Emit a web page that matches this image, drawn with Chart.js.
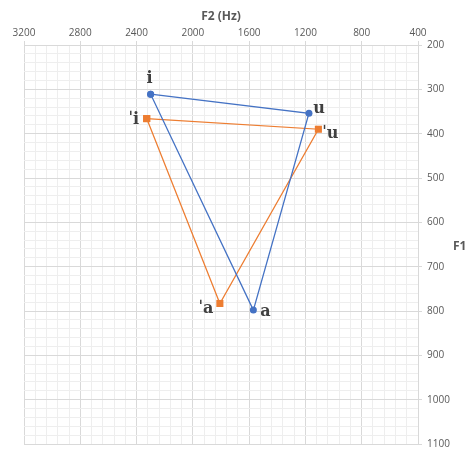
<!DOCTYPE html>
<html>
<head>
    <meta charset="UTF-8">
    <title>Vowel chart F1/F2</title>
    <script src="https://cdn.jsdelivr.net/npm/chart.js"></script>
    <style>
        body { margin: 0; background: #fff; overflow: hidden; }
    </style>
</head>
<body>
    <canvas id="vowelChart" width="465" height="449"></canvas>
    <script>
        // vowel labels
        var plainVowels = ['i', 'u', 'a'];
        var stressVowels = ['ˈi', 'ˈu', 'ˈa'];

        // formants (Hz)
        var plainF2 = [2300, 1175, 1570];
        var plainF1 = [311, 354, 798];
        var stressF2 = [2328, 1108, 1808];
        var stressF1 = [366, 390, 783];

        // axis ranges
        var f2Min = 400, f2Max = 3200, f2Major = 400, f2Minor = 80;
        var f1Min = 200, f1Max = 1100, f1Major = 100, f1Minor = 20;

        var majorGrid = '#d9d9d9';
        var minorGrid = '#eeeeee';
        var tickText = '#595959';

        // closed triangle: back to the first vowel
        function toPoints(f2, f1) {
            var pts = [];
            for (var i = 0; i < f2.length; i++) pts.push({ x: f2[i], y: f1[i] });
            pts.push({ x: f2[0], y: f1[0] });
            return pts;
        }

        function isMajor(v, step) {
            return Math.round(v) % step === 0;
        }

        // vowel names next to the points
        var labelOffsets = [
            [[-1, -15], [10, -4], [12, 2]],
            [[-13, 1], [12, 5], [-14, 5]]
        ];
        var vowelLabels = {
            id: 'vowelLabels',
            afterDatasetsDraw: function(chart) {
                var ctx = chart.ctx;
                var names = [plainVowels, stressVowels];
                ctx.save();
                ctx.font = 'bold 16px "DejaVu Serif"';
                ctx.fillStyle = '#404040';
                ctx.textAlign = 'center';
                ctx.textBaseline = 'middle';
                for (var d = 0; d < 2; d++) {
                    var meta = chart.getDatasetMeta(d);
                    for (var i = 0; i < names[d].length; i++) {
                        var p = meta.data[i];
                        ctx.fillText(names[d][i], p.x + labelOffsets[d][i][0], p.y + labelOffsets[d][i][1]);
                    }
                }
                // F1 axis title, horizontal
                ctx.font = 'bold 12px "Open Sans"';
                ctx.fillStyle = tickText;
                ctx.textAlign = 'left';
                ctx.fillText('F1', 453, 247);
                ctx.restore();
            }
        };

        var ctx = document.getElementById('vowelChart').getContext('2d');
        var vowelChart = new Chart(ctx, {
            type: 'scatter',
            data: {
                datasets: [{
                    label: 'vowels',
                    data: toPoints(plainF2, plainF1),
                    showLine: true,
                    borderColor: '#4472C4',
                    backgroundColor: '#4472C4',
                    borderWidth: 1.25,
                    pointStyle: 'circle',
                    pointRadius: 3.5,
                    pointBorderWidth: 0
                }, {
                    label: 'stressed vowels',
                    data: toPoints(stressF2, stressF1),
                    showLine: true,
                    borderColor: '#ED7D31',
                    backgroundColor: '#ED7D31',
                    borderWidth: 1.25,
                    pointStyle: 'rect',
                    pointRadius: 5,
                    pointBorderWidth: 0
                }]
            },
            options: {
                responsive: false,
                animation: false,
                devicePixelRatio: 1,
                layout: { padding: { left: 24, right: 0, top: 0, bottom: 4 } },
                plugins: {
                    legend: { display: false },
                    tooltip: { enabled: false }
                },
                scales: {
                    x: {
                        type: 'linear',
                        position: 'top',
                        reverse: true,
                        min: f2Min,
                        max: f2Max,
                        afterFit: function(scale) {
                            scale.height = 45;
                            scale.paddingLeft = 0;
                            scale.paddingRight = 0;
                        },
                        title: {
                            display: true,
                            text: 'F2 (Hz)',
                            color: tickText,
                            font: { family: 'Open Sans', size: 12, weight: 'bold' },
                            padding: { top: 9, bottom: 0 }
                        },
                        ticks: {
                            stepSize: f2Minor,
                            maxTicksLimit: 200,
                            autoSkip: false,
                            maxRotation: 0,
                            padding: 2,
                            color: tickText,
                            font: { family: 'Open Sans', size: 10 },
                            callback: function(v) { return isMajor(v, f2Major) ? Math.round(v) : ''; }
                        },
                        grid: {
                            tickLength: 4,
                            color: function(c) { return c.tick && isMajor(c.tick.value, f2Major) ? majorGrid : minorGrid; },
                            tickColor: function(c) { return c.tick && isMajor(c.tick.value, f2Major) ? majorGrid : 'rgba(0,0,0,0)'; }
                        },
                        border: { color: majorGrid }
                    },
                    y: {
                        type: 'linear',
                        position: 'right',
                        reverse: true,
                        min: f1Min,
                        max: f1Max,
                        afterFit: function(scale) {
                            scale.width = 47;
                            scale.paddingTop = 0;
                            scale.paddingBottom = 0;
                        },
                        ticks: {
                            stepSize: f1Minor,
                            maxTicksLimit: 200,
                            autoSkip: false,
                            padding: 5,
                            color: tickText,
                            font: { family: 'Open Sans', size: 10, lineHeight: 0.8 },
                            callback: function(v) { return isMajor(v, f1Major) ? Math.round(v) : ''; }
                        },
                        grid: {
                            tickLength: 4,
                            color: function(c) { return c.tick && isMajor(c.tick.value, f1Major) ? majorGrid : minorGrid; },
                            tickColor: function(c) { return c.tick && isMajor(c.tick.value, f1Major) ? majorGrid : 'rgba(0,0,0,0)'; }
                        },
                        border: { color: majorGrid }
                    }
                }
            },
            plugins: [vowelLabels]
        });
    </script>
</body>
</html>
